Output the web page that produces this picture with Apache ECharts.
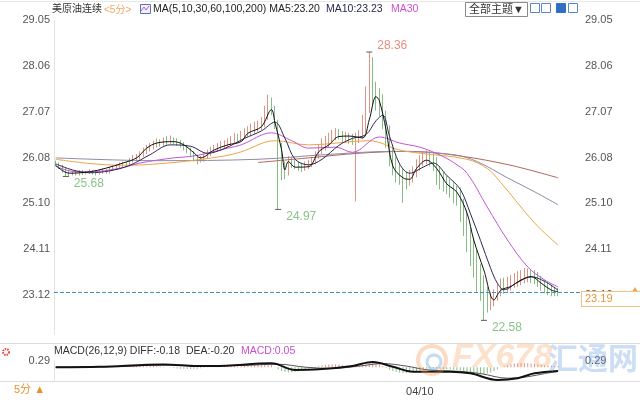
<!DOCTYPE html>
<html>
<head>
<meta charset="utf-8">
<script src="https://cdn.jsdelivr.net/npm/echarts@6/dist/echarts.min.js"></script>
<style>
html, body { margin: 0; padding: 0; background: #fff; }
#chart { width: 640px; height: 400px; }
</style>
</head>
<body>
<div id="chart"></div>
<script>
// 5分钟K线 (i0 = 04/09 15:00)
var opens = [
  25.98, 25.95, 25.90, 25.84, 25.74, 25.72, 25.76, 25.74, 25.78, 25.75,
  25.77, 25.79, 25.76, 25.74, 25.78, 25.80, 25.77, 25.84, 25.86, 25.88,
  25.92, 25.95, 25.93, 26.02, 26.06, 26.08, 26.15, 26.22, 26.28, 26.32,
  26.36, 26.40, 26.38, 26.44, 26.42, 26.46, 26.44, 26.40, 26.36, 26.30,
  26.24, 26.16, 26.08, 26.02, 26.06, 26.12, 26.18, 26.24, 26.28, 26.30,
  26.34, 26.38, 26.40, 26.44, 26.50, 26.48, 26.55, 26.60, 26.62, 26.66,
  26.70, 26.74, 26.80, 26.98, 27.25, 27.12, 26.80, 26.30, 25.85, 25.78,
  26.02, 25.95, 25.92, 25.88, 25.86, 25.90, 25.94, 26.00, 26.12, 26.22,
  26.30, 26.36, 26.44, 26.52, 26.58, 26.55, 26.50, 26.52, 26.48, 26.46,
  26.50, 26.56, 26.72, 27.15, 27.60, 27.48, 27.36, 27.22, 26.90, 26.55,
  26.15, 25.92, 25.80, 25.72, 25.60, 25.58, 25.64, 25.72, 25.88, 25.98,
  26.04, 26.06, 26.02, 26.00, 25.78, 25.62, 25.55, 25.48, 25.40, 25.32,
  25.28, 25.05, 24.80, 24.40, 24.10, 23.85, 23.60, 23.30, 23.05, 22.95,
  23.00, 23.05, 23.20, 23.30, 23.28, 23.34, 23.38, 23.42, 23.46, 23.50,
  23.54, 23.56, 23.52, 23.50, 23.44, 23.36, 23.30, 23.26, 23.22, 23.20
];
var closes = [
  25.95, 25.90, 25.84, 25.74, 25.72, 25.76, 25.74, 25.78, 25.75, 25.77,
  25.79, 25.76, 25.74, 25.78, 25.80, 25.77, 25.84, 25.86, 25.88, 25.92,
  25.95, 25.93, 26.02, 26.06, 26.08, 26.15, 26.22, 26.28, 26.32, 26.36,
  26.40, 26.38, 26.44, 26.42, 26.46, 26.44, 26.40, 26.36, 26.30, 26.24,
  26.16, 26.08, 26.02, 26.06, 26.12, 26.18, 26.24, 26.28, 26.30, 26.34,
  26.38, 26.40, 26.44, 26.50, 26.48, 26.55, 26.60, 26.62, 26.66, 26.70,
  26.74, 26.80, 26.98, 27.25, 27.12, 26.80, 26.30, 25.85, 25.78, 26.02,
  25.95, 25.92, 25.88, 25.86, 25.90, 25.94, 26.00, 26.12, 26.22, 26.30,
  26.36, 26.44, 26.52, 26.58, 26.55, 26.50, 26.52, 26.48, 26.46, 26.50,
  26.56, 26.72, 27.15, 27.60, 27.48, 27.36, 27.22, 26.90, 26.55, 26.15,
  25.92, 25.80, 25.72, 25.60, 25.58, 25.64, 25.72, 25.88, 25.98, 26.04,
  26.06, 26.02, 26.00, 25.78, 25.62, 25.55, 25.48, 25.40, 25.32, 25.28,
  25.05, 24.80, 24.40, 24.10, 23.85, 23.60, 23.30, 23.05, 22.95, 23.00,
  23.05, 23.20, 23.30, 23.28, 23.34, 23.38, 23.42, 23.46, 23.50, 23.54,
  23.56, 23.52, 23.50, 23.44, 23.36, 23.30, 23.26, 23.22, 23.20, 23.19
];
var highs = [
  26.02, 25.98, 25.93, 25.88, 25.80, 25.80, 25.80, 25.82, 25.82, 25.80,
  25.84, 25.82, 25.80, 25.82, 25.85, 25.84, 25.88, 25.92, 25.94, 25.98,
  26.00, 26.00, 26.08, 26.14, 26.16, 26.22, 26.30, 26.36, 26.40, 26.45,
  26.50, 26.48, 26.52, 26.55, 26.56, 26.52, 26.50, 26.46, 26.42, 26.36,
  26.30, 26.22, 26.14, 26.12, 26.18, 26.26, 26.32, 26.36, 26.40, 26.44,
  26.46, 26.50, 26.55, 26.62, 26.60, 26.66, 26.72, 26.76, 26.82, 26.86,
  26.88, 26.96, 27.20, 27.44, 27.38, 27.20, 26.90, 26.40, 26.00, 26.12,
  26.10, 26.04, 26.00, 25.98, 26.00, 26.04, 26.10, 26.22, 26.36, 26.50,
  26.55, 26.62, 26.68, 26.72, 26.70, 26.66, 26.64, 26.62, 26.60, 26.62,
  26.68, 27.00, 27.62, 28.36, 28.25, 27.72, 27.58, 27.45, 27.10, 26.78,
  26.30, 26.10, 25.95, 25.86, 25.78, 25.82, 25.90, 26.05, 26.14, 26.20,
  26.24, 26.22, 26.18, 26.10, 25.90, 25.78, 25.70, 25.62, 25.55, 25.48,
  25.44, 25.20, 24.95, 24.60, 24.35, 24.10, 23.80, 23.55, 23.30, 23.20,
  23.25, 23.38, 23.48, 23.50, 23.52, 23.56, 23.60, 23.64, 23.66, 23.70,
  23.70, 23.68, 23.66, 23.62, 23.54, 23.46, 23.40, 23.35, 23.30, 23.28
];
var lows = [
  25.90, 25.84, 25.76, 25.68, 25.68, 25.70, 25.70, 25.70, 25.71, 25.72,
  25.73, 25.72, 25.70, 25.72, 25.74, 25.74, 25.74, 25.80, 25.82, 25.84,
  25.88, 25.88, 25.90, 25.98, 26.02, 26.04, 26.10, 26.16, 26.22, 26.26,
  26.30, 26.32, 26.34, 26.36, 26.38, 26.38, 26.34, 26.30, 26.24, 26.18,
  26.10, 26.00, 25.94, 25.98, 26.00, 26.06, 26.12, 26.18, 26.22, 26.26,
  26.28, 26.32, 26.34, 26.40, 26.42, 26.44, 26.50, 26.54, 26.56, 26.60,
  26.64, 26.68, 26.74, 26.90, 27.00, 26.70, 24.97, 25.60, 25.62, 25.70,
  25.86, 25.84, 25.80, 25.78, 25.80, 25.84, 25.88, 25.94, 26.06, 26.16,
  26.24, 26.30, 26.38, 26.46, 26.48, 26.42, 26.40, 26.38, 26.36, 25.14,
  26.40, 26.48, 26.62, 27.05, 27.20, 27.10, 26.98, 26.70, 26.30, 25.90,
  25.70, 25.55, 25.50, 25.11, 25.40, 25.48, 25.55, 25.66, 25.80, 25.90,
  25.94, 25.90, 25.80, 25.50, 25.40, 25.35, 25.30, 25.22, 25.10, 25.05,
  24.70, 24.40, 24.05, 23.75, 23.50, 23.20, 23.00, 22.58, 22.75, 22.80,
  22.88, 23.00, 23.10, 23.15, 23.18, 23.22, 23.28, 23.30, 23.34, 23.38,
  23.40, 23.38, 23.36, 23.30, 23.22, 23.16, 23.12, 23.10, 23.10, 23.10
];

// 均线 (读图得到的 [序号, 数值])
var ma5 = [[0,25.92],[4,25.75],[10,25.78],[15,25.86],[20,25.97],[24,26.08],[27,26.29],[30,26.40],[35,26.43],[38,26.36],[41,26.19],[43,26.08],[47,26.25],[51,26.36],[55,26.43],[57,26.61],[61,26.75],[64,27.12],[65,26.85],[67,26.25],[68,25.82],[69,26.00],[71,25.88],[75,25.89],[78,26.21],[81,26.36],[84,26.54],[87,26.55],[91,26.51],[93,26.90],[95,27.40],[96,27.31],[98,26.68],[100,25.90],[103,25.65],[105,25.62],[107,25.85],[110,26.03],[113,25.85],[116,25.52],[119,25.34],[122,24.89],[124,24.31],[127,23.66],[130,23.02],[132,23.23],[135,23.31],[138,23.45],[141,23.52],[144,23.38],[147,23.23],[149,23.20]];
var ma10 = [[0,25.95],[5,25.82],[10,25.76],[16,25.80],[22,25.92],[28,26.15],[34,26.36],[40,26.33],[45,26.18],[50,26.28],[56,26.50],[61,26.66],[65,26.85],[68,26.50],[71,26.05],[75,25.93],[79,26.05],[84,26.35],[88,26.50],[92,26.58],[95,26.88],[97,27.00],[99,26.55],[102,25.95],[105,25.75],[109,25.88],[112,25.97],[116,25.70],[120,25.40],[123,24.88],[126,24.30],[129,23.70],[131,23.38],[133,23.24],[137,23.40],[141,23.52],[145,23.42],[149,23.23]];
var ma30 = [[0,25.90],[5,25.79],[10,25.78],[16,25.82],[21,25.89],[25,25.97],[35,26.08],[40,26.11],[45,26.18],[51,26.29],[55,26.36],[64,26.62],[70,26.45],[75,26.29],[83,26.31],[88,26.20],[96,26.53],[102,26.40],[108,26.31],[114,26.14],[118,25.98],[122,25.75],[128,25.02],[134,24.31],[140,23.73],[145,23.45],[149,23.30]];
var ma60 = [[0,26.05],[10,25.96],[20,25.92],[35,25.98],[50,26.12],[55,26.21],[65,26.45],[75,26.36],[93,26.45],[102,26.25],[108,26.18],[122,26.05],[128,25.85],[132,25.55],[142,24.68],[149,24.20]];
var ma100 = [[0,26.08],[30,26.02],[60,26.05],[80,26.15],[100,26.22],[118,26.15],[125,26.00],[134,25.65],[142,25.35],[149,25.07]];
var ma200 = [[60,25.98],[75,26.08],[90,26.18],[105,26.22],[120,26.12],[135,25.92],[149,25.65]];

// MACD(26,12,9)
var diff = [[0,0.00],[13,0.02],[32,0.13],[41,0.06],[47,0.05],[64,0.18],[71,-0.13],[78,-0.10],[88,0.06],[94,0.24],[100,0.02],[106,-0.21],[117,-0.21],[123,-0.29],[131,-0.60],[137,-0.52],[142,-0.29],[149,-0.18]];
var dea = [[0,0.00],[15,0.02],[34,0.10],[45,0.07],[55,0.08],[66,0.14],[74,0.00],[82,-0.06],[90,0.05],[97,0.17],[104,0.05],[110,-0.12],[120,-0.20],[126,-0.30],[134,-0.52],[140,-0.45],[145,-0.30],[149,-0.20]];
var macdHist = [
  0.01, 0.01, -0.01, -0.02, -0.02, -0.01, 0.00, 0.01, 0.01, 0.01,
  0.01, 0.00, 0.01, 0.02, 0.02, 0.03, 0.03, 0.04, 0.04, 0.05,
  0.05, 0.05, 0.06, 0.06, 0.07, 0.07, 0.06, 0.06, 0.05, 0.05,
  0.04, 0.03, 0.02, 0.00, -0.02, -0.04, -0.06, -0.07, -0.08, -0.09,
  -0.09, -0.08, -0.07, -0.05, -0.03, -0.01, 0.01, 0.02, 0.03, 0.04,
  0.05, 0.05, 0.06, 0.07, 0.07, 0.08, 0.08, 0.09, 0.09, 0.10,
  0.10, 0.11, 0.12, 0.13, 0.10, 0.02, -0.10, -0.18, -0.22, -0.24,
  -0.24, -0.22, -0.19, -0.15, -0.11, -0.07, -0.03, 0.02, 0.06, 0.09,
  0.11, 0.13, 0.14, 0.14, 0.12, 0.10, 0.07, 0.05, 0.03, 0.04,
  0.06, 0.09, 0.13, 0.17, 0.18, 0.16, 0.12, 0.06, -0.04, -0.12,
  -0.18, -0.22, -0.25, -0.27, -0.27, -0.25, -0.22, -0.18, -0.14, -0.10,
  -0.07, -0.05, -0.04, -0.06, -0.08, -0.09, -0.10, -0.10, -0.11, -0.13,
  -0.16, -0.19, -0.22, -0.26, -0.30, -0.33, -0.34, -0.33, -0.30, -0.25,
  -0.18, -0.10, -0.02, 0.05, 0.10, 0.14, 0.17, 0.19, 0.20, 0.20,
  0.19, 0.17, 0.15, 0.13, 0.11, 0.09, 0.08, 0.07, 0.06, 0.05
];

var priceTicks = [23.12, 24.11, 25.10, 26.08, 27.07, 28.06, 29.05];
var macdTicks = [0.29];
var lastPrice = 23.19;
var highMarkIdx = [93];
var lowMarkIdx = [3, 66, 127];

// 时间轴
var categories = [];
for (var i = 0; i < closes.length; i++) {
  var t = 15 * 60 + i * 5;
  var day = t >= 24 * 60 ? '04/10' : '04/09';
  t = t % (24 * 60);
  var hh = Math.floor(t / 60), mm = t % 60;
  categories.push(day + ' ' + (hh < 10 ? '0' : '') + hh + ':' + (mm < 10 ? '0' : '') + mm);
}

var kData = opens.map(function (o, i) { return [o, closes[i], lows[i], highs[i]]; });

var FONT = 'Arial, "Liberation Sans", "Noto Sans CJK SC", sans-serif';
var UP = '#dc9585', DOWN = '#86bd84';

var chart = echarts.init(document.getElementById('chart'));

function maLine(name, data, color, width) {
  return {
    name: name, type: 'line', xAxisIndex: 0, yAxisIndex: 0,
    data: data, smooth: 0.35, showSymbol: false, silent: true,
    lineStyle: { color: color, width: width || 1 }
  };
}

var option = {
  backgroundColor: '#fff',
  animation: false,
  textStyle: { fontFamily: FONT },
  grid: [
    { left: 54, right: 60, top: 20, height: 314 },
    { left: 54, right: 60, top: 361, height: 20 }
  ],
  xAxis: [
    { type: 'category', gridIndex: 0, data: categories, max: 155, boundaryGap: true,
      axisLine: { show: false }, axisTick: { show: false }, axisLabel: { show: false }, splitLine: { show: false } },
    { type: 'category', gridIndex: 1, data: categories, max: 155, boundaryGap: true,
      axisLine: { show: false }, axisTick: { show: false }, splitLine: { show: false },
      axisLabel: {
        color: '#444', fontSize: 11, margin: 5,
        interval: function (idx, val) { return val === '04/10 00:00'; },
        formatter: function (val) { return val.slice(0, 5); }
      } }
  ],
  yAxis: [
    { type: 'value', gridIndex: 0, min: 22.286, max: 29.05, position: 'left',
      axisLine: { show: true, lineStyle: { color: '#e2e2e2' } }, axisTick: { show: false }, splitLine: { show: false },
      axisLabel: { customValues: priceTicks, color: '#555', fontSize: 11, margin: 4,
        formatter: function (v) { return v.toFixed(2); } } },
    { type: 'value', gridIndex: 0, min: 22.286, max: 29.05, position: 'right',
      axisLine: { show: false }, axisTick: { show: false }, splitLine: { show: false },
      axisLabel: { customValues: priceTicks, color: '#555', fontSize: 11, margin: 5,
        formatter: function (v) { return v.toFixed(2); } } },
    { type: 'value', gridIndex: 1, min: -0.65, max: 0.29, position: 'left',
      axisLine: { show: true, lineStyle: { color: '#e2e2e2' } }, axisTick: { show: false }, splitLine: { show: false },
      axisLabel: { customValues: macdTicks, color: '#555', fontSize: 11, margin: 4,
        formatter: function (v) { return v.toFixed(2); } } },
    { type: 'value', gridIndex: 1, min: -0.65, max: 0.29, position: 'right',
      axisLine: { show: false }, axisTick: { show: false }, splitLine: { show: false },
      axisLabel: { customValues: macdTicks, color: '#555', fontSize: 11, margin: 5,
        formatter: function (v) { return v.toFixed(2); } } }
  ],
  series: [
    {
      name: '美原油连续', type: 'candlestick', xAxisIndex: 0, yAxisIndex: 0,
      data: kData, barWidth: 1.2, silent: true,
      itemStyle: { color: UP, color0: DOWN, borderColor: UP, borderColor0: DOWN, borderWidth: 1 },
      markLine: {
        silent: true, symbol: 'none',
        data: [{ yAxis: lastPrice }],
        lineStyle: { type: 'dashed', color: '#3f93b8', width: 1 },
        label: {
          show: true, position: 'end', formatter: lastPrice.toFixed(2),
          color: '#e8963a', fontSize: 11, backgroundColor: '#fff',
          borderColor: '#f1c07e', borderWidth: 1, padding: [2, 30, 1, 3],
          distance: 2, offset: [0, 7]
        }
      }
    },
    maLine('MA200', ma200, '#b5655c'),
    maLine('MA100', ma100, '#8c8ca6'),
    maLine('MA60', ma60, '#f0a445'),
    maLine('MA30', ma30, '#c257d6'),
    maLine('MA10', ma10, '#2a2a55'),
    maLine('MA5', ma5, '#111111'),
    {
      name: 'high', type: 'scatter', xAxisIndex: 0, yAxisIndex: 0, silent: true,
      symbol: 'rect', symbolSize: [6, 1], itemStyle: { color: '#333' },
      data: highMarkIdx.map(function (i) { return [i, highs[i]]; }),
      label: { show: true, position: 'right', offset: [0, -6], color: '#e0725c', fontSize: 12,
        formatter: function (p) { return p.value[1].toFixed(2); } }
    },
    {
      name: 'low', type: 'scatter', xAxisIndex: 0, yAxisIndex: 0, silent: true,
      symbol: 'rect', symbolSize: [6, 1], itemStyle: { color: '#333' },
      data: lowMarkIdx.map(function (i) { return [i, lows[i]]; }),
      label: { show: true, position: 'right', offset: [0, 7], color: '#6db36c', fontSize: 12,
        formatter: function (p) { return p.value[1].toFixed(2); } }
    },
    {
      name: 'MACD', type: 'bar', xAxisIndex: 1, yAxisIndex: 2, silent: true,
      data: macdHist, barWidth: 1,
      itemStyle: { color: function (p) { return p.value >= 0 ? '#e29380' : '#86bb82'; } }
    },
    { name: 'DEA', type: 'line', xAxisIndex: 1, yAxisIndex: 2, data: dea, smooth: 0.35,
      showSymbol: false, silent: true, lineStyle: { color: '#555', width: 1 } },
    { name: 'DIFF', type: 'line', xAxisIndex: 1, yAxisIndex: 2, data: diff, smooth: 0.35,
      showSymbol: false, silent: true, lineStyle: { color: '#111', width: 2 } }
  ],
  graphic: [
    { type: 'line', shape: { x1: 0, y1: 1.5, x2: 640, y2: 1.5 }, style: { stroke: '#e6e6e6' } },
    { type: 'line', shape: { x1: 0, y1: 343.5, x2: 640, y2: 343.5 }, style: { stroke: '#dcdcdc' } },
    { type: 'line', shape: { x1: 0, y1: 381.5, x2: 640, y2: 381.5 }, style: { stroke: '#dcdcdc' } },
    // 标题栏
    { type: 'text', left: 52, top: 4, style: { text: '美原油连续', fill: '#333', font: '10px ' + FONT } },
    { type: 'text', left: 104, top: 5, style: { text: '<5分>', fill: '#f0a860', font: '10px ' + FONT } },
    { type: 'rect', shape: { x: 140.5, y: 4.5, width: 10, height: 9 }, style: { fill: '#eef2fb', stroke: '#5b6fb8', lineWidth: 1 } },
    { type: 'polyline', shape: { points: [[141, 11], [144, 7], [146, 10], [149, 6]] }, style: { stroke: '#c257d6', lineWidth: 1, fill: null } },
    { type: 'text', left: 153, top: 4, style: { text: 'MA(5,10,30,60,100,200) MA5:23.20', fill: '#222', font: '10.5px ' + FONT } },
    { type: 'text', left: 326, top: 4, style: { text: 'MA10:23.23', fill: '#2a2a55', font: '10.5px ' + FONT } },
    { type: 'text', left: 391, top: 4, style: { text: 'MA30', fill: '#d050d0', font: '10.5px ' + FONT } },
    { type: 'rect', shape: { x: 465.5, y: 2.5, width: 62, height: 14 }, style: { fill: '#fff', stroke: '#8a8a8a', lineWidth: 1 } },
    { type: 'text', left: 469, top: 4, style: { text: '全部主题▼', fill: '#333', font: '11px ' + FONT } },
    { type: 'rect', shape: { x: 530.5, y: 3.5, width: 9, height: 9 }, style: { fill: '#fff', stroke: '#5a86c8', lineWidth: 1 } },
    { type: 'rect', shape: { x: 541.5, y: 3.5, width: 9, height: 9 }, style: { fill: '#fff', stroke: '#5a86c8', lineWidth: 1 } },
    { type: 'rect', shape: { x: 556.5, y: 3.5, width: 9, height: 9 }, style: { fill: '#2f6fc0', stroke: '#2f6fc0', lineWidth: 1 } },
    { type: 'rect', shape: { x: 568.5, y: 3.5, width: 9, height: 9 }, style: { fill: '#fff', stroke: '#5a86c8', lineWidth: 1 } },
    // MACD 标题
    { type: 'circle', shape: { cx: 6, cy: 352, r: 3 }, style: { fill: '#fff', stroke: '#e04848', lineWidth: 2, lineDash: [1.5, 1] } },
    { type: 'text', left: 54, top: 346, style: { text: 'MACD(26,12,9) DIFF:-0.18', fill: '#333', font: '10.5px ' + FONT } },
    { type: 'text', left: 186, top: 346, style: { text: 'DEA:-0.20', fill: '#333', font: '10.5px ' + FONT } },
    { type: 'text', left: 241, top: 346, style: { text: 'MACD:0.05', fill: '#c64fd0', font: '10.5px ' + FONT } },
    { type: 'text', left: 14, top: 384, style: { text: '5分 ▲', fill: '#e8902c', font: '11px ' + FONT } },
    { type: 'polygon', shape: { points: [[632, 292], [635, 287], [638, 292]] }, style: { fill: '#f0a445' } },
    // 水印
    { type: 'circle', shape: { cx: 432, cy: 360, r: 14 }, style: { fill: null, stroke: 'rgba(240,150,80,0.35)', lineWidth: 4 }, z: 50 },
    { type: 'circle', shape: { cx: 434, cy: 362, r: 7 }, style: { fill: null, stroke: 'rgba(90,150,220,0.35)', lineWidth: 3 }, z: 50 },
    { type: 'text', left: 452, top: 341, z: 50, style: { text: 'FX678', fill: 'rgba(245,170,110,0.35)', font: 'italic bold 34px ' + FONT } },
    { type: 'text', left: 548, top: 343, z: 50, style: { text: '汇通网', fill: 'rgba(110,160,225,0.35)', font: 'bold 30px "Noto Sans CJK SC", sans-serif' } }
  ]
};

chart.setOption(option);
</script>
</body>
</html>
